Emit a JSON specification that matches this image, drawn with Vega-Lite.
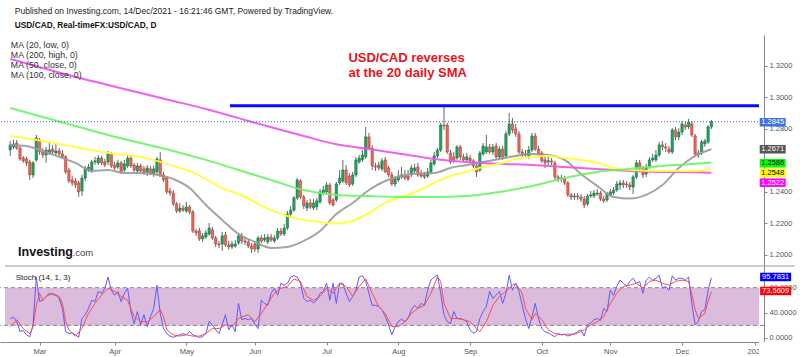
{
"$schema":"https://vega.github.io/schema/vega-lite/v6.json",
"width":764,"height":307,
"autosize":{"type":"none"},
"padding":{"left":0,"top":35,"right":36,"bottom":15},
"background":"white",
"config":{"view":{"stroke":null},"font":"Liberation Sans",
 "axis":{"grid":false,"title":null,"labelColor":"#555","tickColor":"#888","domainColor":"#888","tickSize":3,"labelPadding":2},
 "legend":{"symbolSize":0,"symbolStrokeWidth":0,"labelFontSize":8.8,"labelColor":"#333","rowPadding":0,"labelOffset":0,"padding":0}},
"datasets":{
"candles":[
{"i":0,"o":1.2666,"h":1.2723,"l":1.2628,"c":1.2698},{"i":1,"o":1.2685,"h":1.2729,"l":1.2672,"c":1.2704},{"i":2,"o":1.2710,"h":1.2729,"l":1.2666,"c":1.2678},{"i":3,"o":1.2678,"h":1.2691,"l":1.2597,"c":1.2609},{"i":4,"o":1.2615,"h":1.2628,"l":1.2584,"c":1.2597},{"i":5,"o":1.2609,"h":1.2622,"l":1.2565,"c":1.2584},{"i":6,"o":1.2590,"h":1.2603,"l":1.2476,"c":1.2508},{"i":7,"o":1.2508,"h":1.2597,"l":1.2488,"c":1.2584},{"i":8,"o":1.2603,"h":1.2761,"l":1.2590,"c":1.2742},{"i":9,"o":1.2729,"h":1.2742,"l":1.2634,"c":1.2653},
{"i":10,"o":1.2653,"h":1.2678,"l":1.2615,"c":1.2634},{"i":11,"o":1.2634,"h":1.2685,"l":1.2584,"c":1.2666},{"i":12,"o":1.2647,"h":1.2717,"l":1.2634,"c":1.2666},{"i":13,"o":1.2672,"h":1.2698,"l":1.2641,"c":1.2653},{"i":14,"o":1.2647,"h":1.2710,"l":1.2634,"c":1.2660},{"i":15,"o":1.2660,"h":1.2678,"l":1.2628,"c":1.2641},{"i":16,"o":1.2641,"h":1.2666,"l":1.2609,"c":1.2622},{"i":17,"o":1.2622,"h":1.2634,"l":1.2514,"c":1.2527},{"i":18,"o":1.2539,"h":1.2552,"l":1.2457,"c":1.2469},{"i":19,"o":1.2476,"h":1.2501,"l":1.2438,"c":1.2457},
{"i":20,"o":1.2469,"h":1.2488,"l":1.2425,"c":1.2444},{"i":21,"o":1.2457,"h":1.2469,"l":1.2368,"c":1.2400},{"i":22,"o":1.2406,"h":1.2508,"l":1.2374,"c":1.2488},{"i":23,"o":1.2488,"h":1.2565,"l":1.2469,"c":1.2546},{"i":24,"o":1.2539,"h":1.2578,"l":1.2527,"c":1.2558},{"i":25,"o":1.2533,"h":1.2603,"l":1.2520,"c":1.2590},{"i":26,"o":1.2590,"h":1.2622,"l":1.2571,"c":1.2597},{"i":27,"o":1.2584,"h":1.2634,"l":1.2571,"c":1.2615},{"i":28,"o":1.2615,"h":1.2628,"l":1.2571,"c":1.2584},{"i":29,"o":1.2590,"h":1.2609,"l":1.2558,"c":1.2571},
{"i":30,"o":1.2590,"h":1.2660,"l":1.2571,"c":1.2647},{"i":31,"o":1.2641,"h":1.2653,"l":1.2552,"c":1.2565},{"i":32,"o":1.2571,"h":1.2590,"l":1.2539,"c":1.2552},{"i":33,"o":1.2558,"h":1.2603,"l":1.2546,"c":1.2584},{"i":34,"o":1.2584,"h":1.2597,"l":1.2514,"c":1.2527},{"i":35,"o":1.2539,"h":1.2603,"l":1.2527,"c":1.2578},{"i":36,"o":1.2565,"h":1.2634,"l":1.2552,"c":1.2615},{"i":37,"o":1.2615,"h":1.2628,"l":1.2552,"c":1.2565},{"i":38,"o":1.2571,"h":1.2584,"l":1.2527,"c":1.2539},{"i":39,"o":1.2533,"h":1.2584,"l":1.2520,"c":1.2565},
{"i":40,"o":1.2565,"h":1.2578,"l":1.2520,"c":1.2533},{"i":41,"o":1.2546,"h":1.2565,"l":1.2508,"c":1.2520},{"i":42,"o":1.2527,"h":1.2571,"l":1.2501,"c":1.2552},{"i":43,"o":1.2546,"h":1.2565,"l":1.2508,"c":1.2520},{"i":44,"o":1.2514,"h":1.2565,"l":1.2495,"c":1.2546},{"i":45,"o":1.2527,"h":1.2622,"l":1.2508,"c":1.2609},{"i":46,"o":1.2603,"h":1.2653,"l":1.2495,"c":1.2501},{"i":47,"o":1.2508,"h":1.2527,"l":1.2463,"c":1.2476},{"i":48,"o":1.2488,"h":1.2501,"l":1.2387,"c":1.2400},{"i":49,"o":1.2406,"h":1.2425,"l":1.2374,"c":1.2393},
{"i":50,"o":1.2393,"h":1.2412,"l":1.2311,"c":1.2324},{"i":51,"o":1.2324,"h":1.2336,"l":1.2266,"c":1.2279},{"i":52,"o":1.2279,"h":1.2330,"l":1.2266,"c":1.2298},{"i":53,"o":1.2298,"h":1.2317,"l":1.2273,"c":1.2285},{"i":54,"o":1.2279,"h":1.2336,"l":1.2266,"c":1.2305},{"i":55,"o":1.2305,"h":1.2317,"l":1.2260,"c":1.2273},{"i":56,"o":1.2273,"h":1.2285,"l":1.2140,"c":1.2152},{"i":57,"o":1.2152,"h":1.2165,"l":1.2121,"c":1.2140},{"i":58,"o":1.2152,"h":1.2171,"l":1.2089,"c":1.2102},{"i":59,"o":1.2102,"h":1.2140,"l":1.2083,"c":1.2121},
{"i":60,"o":1.2114,"h":1.2159,"l":1.2102,"c":1.2140},{"i":61,"o":1.2133,"h":1.2203,"l":1.2121,"c":1.2171},{"i":62,"o":1.2159,"h":1.2178,"l":1.2095,"c":1.2108},{"i":63,"o":1.2108,"h":1.2121,"l":1.2051,"c":1.2070},{"i":64,"o":1.2070,"h":1.2089,"l":1.2045,"c":1.2064},{"i":65,"o":1.2070,"h":1.2146,"l":1.2026,"c":1.2121},{"i":66,"o":1.2127,"h":1.2146,"l":1.2051,"c":1.2064},{"i":67,"o":1.2064,"h":1.2089,"l":1.2032,"c":1.2051},{"i":68,"o":1.2051,"h":1.2089,"l":1.2038,"c":1.2070},{"i":69,"o":1.2057,"h":1.2095,"l":1.2045,"c":1.2070},
{"i":70,"o":1.2076,"h":1.2140,"l":1.2064,"c":1.2121},{"i":71,"o":1.2121,"h":1.2140,"l":1.2070,"c":1.2089},{"i":72,"o":1.2089,"h":1.2114,"l":1.2064,"c":1.2083},{"i":73,"o":1.2083,"h":1.2102,"l":1.2045,"c":1.2057},{"i":74,"o":1.2057,"h":1.2076,"l":1.2013,"c":1.2038},{"i":75,"o":1.2070,"h":1.2089,"l":1.2019,"c":1.2038},{"i":76,"o":1.2038,"h":1.2121,"l":1.2013,"c":1.2108},{"i":77,"o":1.2108,"h":1.2127,"l":1.2076,"c":1.2089},{"i":78,"o":1.2095,"h":1.2133,"l":1.2083,"c":1.2108},{"i":79,"o":1.2083,"h":1.2133,"l":1.2070,"c":1.2114},
{"i":80,"o":1.2114,"h":1.2133,"l":1.2083,"c":1.2095},{"i":81,"o":1.2089,"h":1.2127,"l":1.2076,"c":1.2108},{"i":82,"o":1.2108,"h":1.2171,"l":1.2095,"c":1.2152},{"i":83,"o":1.2152,"h":1.2171,"l":1.2121,"c":1.2133},{"i":84,"o":1.2133,"h":1.2197,"l":1.2121,"c":1.2171},{"i":85,"o":1.2171,"h":1.2279,"l":1.2159,"c":1.2260},{"i":86,"o":1.2260,"h":1.2311,"l":1.2241,"c":1.2285},{"i":87,"o":1.2285,"h":1.2374,"l":1.2273,"c":1.2362},{"i":88,"o":1.2362,"h":1.2488,"l":1.2349,"c":1.2476},{"i":89,"o":1.2469,"h":1.2482,"l":1.2355,"c":1.2368},
{"i":90,"o":1.2368,"h":1.2381,"l":1.2292,"c":1.2311},{"i":91,"o":1.2298,"h":1.2349,"l":1.2279,"c":1.2330},{"i":92,"o":1.2330,"h":1.2355,"l":1.2292,"c":1.2305},{"i":93,"o":1.2298,"h":1.2355,"l":1.2285,"c":1.2330},{"i":94,"o":1.2305,"h":1.2362,"l":1.2285,"c":1.2343},{"i":95,"o":1.2336,"h":1.2419,"l":1.2324,"c":1.2400},{"i":96,"o":1.2393,"h":1.2438,"l":1.2381,"c":1.2412},{"i":97,"o":1.2400,"h":1.2463,"l":1.2387,"c":1.2444},{"i":98,"o":1.2444,"h":1.2457,"l":1.2317,"c":1.2330},{"i":99,"o":1.2349,"h":1.2362,"l":1.2305,"c":1.2317},
{"i":100,"o":1.2349,"h":1.2463,"l":1.2336,"c":1.2450},{"i":101,"o":1.2457,"h":1.2539,"l":1.2444,"c":1.2488},{"i":102,"o":1.2469,"h":1.2603,"l":1.2457,"c":1.2539},{"i":103,"o":1.2539,"h":1.2571,"l":1.2444,"c":1.2457},{"i":104,"o":1.2501,"h":1.2520,"l":1.2431,"c":1.2444},{"i":105,"o":1.2450,"h":1.2527,"l":1.2438,"c":1.2508},{"i":106,"o":1.2508,"h":1.2622,"l":1.2495,"c":1.2603},{"i":107,"o":1.2590,"h":1.2634,"l":1.2578,"c":1.2615},{"i":108,"o":1.2603,"h":1.2666,"l":1.2590,"c":1.2634},{"i":109,"o":1.2622,"h":1.2812,"l":1.2609,"c":1.2749},
{"i":110,"o":1.2749,"h":1.2774,"l":1.2666,"c":1.2678},{"i":111,"o":1.2678,"h":1.2698,"l":1.2539,"c":1.2565},{"i":112,"o":1.2565,"h":1.2584,"l":1.2533,"c":1.2558},{"i":113,"o":1.2571,"h":1.2590,"l":1.2539,"c":1.2552},{"i":114,"o":1.2546,"h":1.2615,"l":1.2533,"c":1.2597},{"i":115,"o":1.2603,"h":1.2622,"l":1.2520,"c":1.2527},{"i":116,"o":1.2552,"h":1.2565,"l":1.2495,"c":1.2508},{"i":117,"o":1.2508,"h":1.2527,"l":1.2438,"c":1.2450},{"i":118,"o":1.2450,"h":1.2501,"l":1.2431,"c":1.2482},{"i":119,"o":1.2476,"h":1.2539,"l":1.2463,"c":1.2501},
{"i":120,"o":1.2495,"h":1.2558,"l":1.2482,"c":1.2508},{"i":121,"o":1.2508,"h":1.2539,"l":1.2476,"c":1.2488},{"i":122,"o":1.2501,"h":1.2539,"l":1.2469,"c":1.2482},{"i":123,"o":1.2508,"h":1.2571,"l":1.2495,"c":1.2552},{"i":124,"o":1.2533,"h":1.2578,"l":1.2520,"c":1.2552},{"i":125,"o":1.2558,"h":1.2584,"l":1.2495,"c":1.2508},{"i":126,"o":1.2514,"h":1.2539,"l":1.2488,"c":1.2501},{"i":127,"o":1.2508,"h":1.2527,"l":1.2482,"c":1.2495},{"i":128,"o":1.2501,"h":1.2552,"l":1.2488,"c":1.2527},{"i":129,"o":1.2527,"h":1.2603,"l":1.2514,"c":1.2584},
{"i":130,"o":1.2578,"h":1.2653,"l":1.2565,"c":1.2628},{"i":131,"o":1.2628,"h":1.2678,"l":1.2615,"c":1.2666},{"i":132,"o":1.2666,"h":1.2837,"l":1.2653,"c":1.2824},{"i":133,"o":1.2824,"h":1.2945,"l":1.2793,"c":1.2818},{"i":134,"o":1.2824,"h":1.2837,"l":1.2641,"c":1.2653},{"i":135,"o":1.2647,"h":1.2666,"l":1.2578,"c":1.2590},{"i":136,"o":1.2622,"h":1.2653,"l":1.2584,"c":1.2603},{"i":137,"o":1.2615,"h":1.2698,"l":1.2603,"c":1.2685},{"i":138,"o":1.2685,"h":1.2698,"l":1.2603,"c":1.2622},{"i":139,"o":1.2622,"h":1.2641,"l":1.2590,"c":1.2603},
{"i":140,"o":1.2603,"h":1.2647,"l":1.2590,"c":1.2622},{"i":141,"o":1.2615,"h":1.2634,"l":1.2584,"c":1.2597},{"i":142,"o":1.2597,"h":1.2609,"l":1.2552,"c":1.2565},{"i":143,"o":1.2565,"h":1.2578,"l":1.2495,"c":1.2527},{"i":144,"o":1.2539,"h":1.2660,"l":1.2527,"c":1.2647},{"i":145,"o":1.2641,"h":1.2710,"l":1.2628,"c":1.2691},{"i":146,"o":1.2653,"h":1.2761,"l":1.2641,"c":1.2685},{"i":147,"o":1.2685,"h":1.2704,"l":1.2641,"c":1.2653},{"i":148,"o":1.2653,"h":1.2704,"l":1.2634,"c":1.2685},{"i":149,"o":1.2691,"h":1.2710,"l":1.2603,"c":1.2622},
{"i":150,"o":1.2622,"h":1.2691,"l":1.2603,"c":1.2672},{"i":151,"o":1.2672,"h":1.2691,"l":1.2603,"c":1.2615},{"i":152,"o":1.2628,"h":1.2787,"l":1.2615,"c":1.2768},{"i":153,"o":1.2768,"h":1.2901,"l":1.2755,"c":1.2831},{"i":154,"o":1.2831,"h":1.2869,"l":1.2774,"c":1.2793},{"i":155,"o":1.2799,"h":1.2831,"l":1.2749,"c":1.2768},{"i":156,"o":1.2768,"h":1.2787,"l":1.2641,"c":1.2653},{"i":157,"o":1.2653,"h":1.2672,"l":1.2622,"c":1.2634},{"i":158,"o":1.2634,"h":1.2666,"l":1.2615,"c":1.2641},{"i":159,"o":1.2628,"h":1.2691,"l":1.2609,"c":1.2666},
{"i":160,"o":1.2666,"h":1.2774,"l":1.2653,"c":1.2755},{"i":161,"o":1.2755,"h":1.2774,"l":1.2660,"c":1.2672},{"i":162,"o":1.2672,"h":1.2691,"l":1.2628,"c":1.2641},{"i":163,"o":1.2647,"h":1.2660,"l":1.2584,"c":1.2597},{"i":164,"o":1.2603,"h":1.2622,"l":1.2552,"c":1.2584},{"i":165,"o":1.2590,"h":1.2622,"l":1.2571,"c":1.2597},{"i":166,"o":1.2597,"h":1.2615,"l":1.2571,"c":1.2590},{"i":167,"o":1.2584,"h":1.2597,"l":1.2476,"c":1.2495},{"i":168,"o":1.2495,"h":1.2508,"l":1.2463,"c":1.2482},{"i":169,"o":1.2482,"h":1.2508,"l":1.2463,"c":1.2488},
{"i":170,"o":1.2482,"h":1.2501,"l":1.2444,"c":1.2457},{"i":171,"o":1.2457,"h":1.2469,"l":1.2368,"c":1.2381},{"i":172,"o":1.2381,"h":1.2393,"l":1.2349,"c":1.2368},{"i":173,"o":1.2368,"h":1.2393,"l":1.2349,"c":1.2374},{"i":174,"o":1.2374,"h":1.2393,"l":1.2349,"c":1.2368},{"i":175,"o":1.2368,"h":1.2387,"l":1.2336,"c":1.2355},{"i":176,"o":1.2355,"h":1.2374,"l":1.2298,"c":1.2317},{"i":177,"o":1.2324,"h":1.2387,"l":1.2311,"c":1.2374},{"i":178,"o":1.2374,"h":1.2406,"l":1.2362,"c":1.2381},{"i":179,"o":1.2374,"h":1.2412,"l":1.2362,"c":1.2393},
{"i":180,"o":1.2387,"h":1.2419,"l":1.2374,"c":1.2393},{"i":181,"o":1.2393,"h":1.2406,"l":1.2343,"c":1.2355},{"i":182,"o":1.2355,"h":1.2374,"l":1.2330,"c":1.2343},{"i":183,"o":1.2349,"h":1.2400,"l":1.2336,"c":1.2387},{"i":184,"o":1.2381,"h":1.2419,"l":1.2368,"c":1.2400},{"i":185,"o":1.2393,"h":1.2431,"l":1.2381,"c":1.2412},{"i":186,"o":1.2412,"h":1.2469,"l":1.2400,"c":1.2450},{"i":187,"o":1.2444,"h":1.2476,"l":1.2412,"c":1.2457},{"i":188,"o":1.2457,"h":1.2476,"l":1.2425,"c":1.2444},{"i":189,"o":1.2450,"h":1.2469,"l":1.2425,"c":1.2444},
{"i":190,"o":1.2444,"h":1.2463,"l":1.2412,"c":1.2431},{"i":191,"o":1.2431,"h":1.2508,"l":1.2387,"c":1.2495},{"i":192,"o":1.2495,"h":1.2603,"l":1.2482,"c":1.2584},{"i":193,"o":1.2584,"h":1.2603,"l":1.2527,"c":1.2546},{"i":194,"o":1.2546,"h":1.2565,"l":1.2488,"c":1.2508},{"i":195,"o":1.2514,"h":1.2578,"l":1.2495,"c":1.2558},{"i":196,"o":1.2558,"h":1.2622,"l":1.2546,"c":1.2603},{"i":197,"o":1.2603,"h":1.2641,"l":1.2590,"c":1.2615},{"i":198,"o":1.2603,"h":1.2666,"l":1.2590,"c":1.2634},{"i":199,"o":1.2634,"h":1.2717,"l":1.2622,"c":1.2698},
{"i":200,"o":1.2698,"h":1.2723,"l":1.2666,"c":1.2685},{"i":201,"o":1.2685,"h":1.2710,"l":1.2653,"c":1.2678},{"i":202,"o":1.2672,"h":1.2691,"l":1.2641,"c":1.2653},{"i":203,"o":1.2653,"h":1.2805,"l":1.2641,"c":1.2793},{"i":204,"o":1.2793,"h":1.2812,"l":1.2729,"c":1.2749},{"i":205,"o":1.2749,"h":1.2805,"l":1.2729,"c":1.2780},{"i":206,"o":1.2780,"h":1.2850,"l":1.2761,"c":1.2831},{"i":207,"o":1.2824,"h":1.2843,"l":1.2793,"c":1.2812},{"i":208,"o":1.2812,"h":1.2863,"l":1.2799,"c":1.2843},{"i":209,"o":1.2831,"h":1.2850,"l":1.2749,"c":1.2761},
{"i":210,"o":1.2755,"h":1.2768,"l":1.2628,"c":1.2641},{"i":211,"o":1.2647,"h":1.2666,"l":1.2615,"c":1.2634},{"i":212,"o":1.2653,"h":1.2729,"l":1.2634,"c":1.2717},{"i":213,"o":1.2704,"h":1.2736,"l":1.2685,"c":1.2723},{"i":214,"o":1.2717,"h":1.2824,"l":1.2704,"c":1.2812},{"i":215,"o":1.2812,"h":1.2856,"l":1.2799,"c":1.2845}
],
"ma":[
{"ma":"MA (20, low, 0)","i":0,"v":1.2698},{"ma":"MA (20, low, 0)","i":5,"v":1.2691},{"ma":"MA (20, low, 0)","i":10,"v":1.2660},{"ma":"MA (20, low, 0)","i":15,"v":1.2622},{"ma":"MA (20, low, 0)","i":20,"v":1.2584},{"ma":"MA (20, low, 0)","i":25,"v":1.2533},{"ma":"MA (20, low, 0)","i":30,"v":1.2539},{"ma":"MA (20, low, 0)","i":35,"v":1.2520},{"ma":"MA (20, low, 0)","i":40,"v":1.2520},{"ma":"MA (20, low, 0)","i":45,"v":1.2508},{"ma":"MA (20, low, 0)","i":50,"v":1.2482},{"ma":"MA (20, low, 0)","i":55,"v":1.2425},{"ma":"MA (20, low, 0)","i":60,"v":1.2317},{"ma":"MA (20, low, 0)","i":65,"v":1.2222},{"ma":"MA (20, low, 0)","i":70,"v":1.2133},{"ma":"MA (20, low, 0)","i":75,"v":1.2083},{"ma":"MA (20, low, 0)","i":80,"v":1.2045},{"ma":"MA (20, low, 0)","i":85,"v":1.2051},{"ma":"MA (20, low, 0)","i":90,"v":1.2089},{"ma":"MA (20, low, 0)","i":95,"v":1.2152},{"ma":"MA (20, low, 0)","i":100,"v":1.2260},{"ma":"MA (20, low, 0)","i":105,"v":1.2330},{"ma":"MA (20, low, 0)","i":110,"v":1.2412},{"ma":"MA (20, low, 0)","i":115,"v":1.2469},{"ma":"MA (20, low, 0)","i":120,"v":1.2501},{"ma":"MA (20, low, 0)","i":125,"v":1.2517},{"ma":"MA (20, low, 0)","i":130,"v":1.2520},{"ma":"MA (20, low, 0)","i":135,"v":1.2552},{"ma":"MA (20, low, 0)","i":140,"v":1.2571},{"ma":"MA (20, low, 0)","i":145,"v":1.2590},{"ma":"MA (20, low, 0)","i":150,"v":1.2609},{"ma":"MA (20, low, 0)","i":155,"v":1.2628},{"ma":"MA (20, low, 0)","i":160,"v":1.2641},{"ma":"MA (20, low, 0)","i":165,"v":1.2634},{"ma":"MA (20, low, 0)","i":170,"v":1.2603},{"ma":"MA (20, low, 0)","i":175,"v":1.2514},{"ma":"MA (20, low, 0)","i":180,"v":1.2438},{"ma":"MA (20, low, 0)","i":185,"v":1.2368},{"ma":"MA (20, low, 0)","i":190,"v":1.2358},{"ma":"MA (20, low, 0)","i":195,"v":1.2381},{"ma":"MA (20, low, 0)","i":200,"v":1.2444},{"ma":"MA (20, low, 0)","i":205,"v":1.2552},{"ma":"MA (20, low, 0)","i":210,"v":1.2628},{"ma":"MA (20, low, 0)","i":215,"v":1.2671},
{"ma":"MA (200, high, 0)","i":0,"v":1.3243},{"ma":"MA (200, high, 0)","i":10,"v":1.3186},{"ma":"MA (200, high, 0)","i":20,"v":1.3129},{"ma":"MA (200, high, 0)","i":30,"v":1.3078},{"ma":"MA (200, high, 0)","i":40,"v":1.3027},{"ma":"MA (200, high, 0)","i":50,"v":1.2977},{"ma":"MA (200, high, 0)","i":60,"v":1.2926},{"ma":"MA (200, high, 0)","i":70,"v":1.2868},{"ma":"MA (200, high, 0)","i":80,"v":1.2810},{"ma":"MA (200, high, 0)","i":90,"v":1.2755},{"ma":"MA (200, high, 0)","i":100,"v":1.2702},{"ma":"MA (200, high, 0)","i":110,"v":1.2672},{"ma":"MA (200, high, 0)","i":120,"v":1.2641},{"ma":"MA (200, high, 0)","i":130,"v":1.2609},{"ma":"MA (200, high, 0)","i":140,"v":1.2590},{"ma":"MA (200, high, 0)","i":150,"v":1.2578},{"ma":"MA (200, high, 0)","i":160,"v":1.2571},{"ma":"MA (200, high, 0)","i":170,"v":1.2558},{"ma":"MA (200, high, 0)","i":180,"v":1.2546},{"ma":"MA (200, high, 0)","i":190,"v":1.2533},{"ma":"MA (200, high, 0)","i":200,"v":1.2527},{"ma":"MA (200, high, 0)","i":210,"v":1.2525},{"ma":"MA (200, high, 0)","i":215,"v":1.2522},
{"ma":"MA (50, close, 0)","i":0,"v":1.2755},{"ma":"MA (50, close, 0)","i":10,"v":1.2723},{"ma":"MA (50, close, 0)","i":20,"v":1.2685},{"ma":"MA (50, close, 0)","i":30,"v":1.2647},{"ma":"MA (50, close, 0)","i":40,"v":1.2622},{"ma":"MA (50, close, 0)","i":45,"v":1.2597},{"ma":"MA (50, close, 0)","i":50,"v":1.2565},{"ma":"MA (50, close, 0)","i":55,"v":1.2533},{"ma":"MA (50, close, 0)","i":60,"v":1.2482},{"ma":"MA (50, close, 0)","i":65,"v":1.2425},{"ma":"MA (50, close, 0)","i":70,"v":1.2387},{"ma":"MA (50, close, 0)","i":75,"v":1.2336},{"ma":"MA (50, close, 0)","i":80,"v":1.2285},{"ma":"MA (50, close, 0)","i":85,"v":1.2247},{"ma":"MA (50, close, 0)","i":90,"v":1.2222},{"ma":"MA (50, close, 0)","i":95,"v":1.2209},{"ma":"MA (50, close, 0)","i":100,"v":1.2200},{"ma":"MA (50, close, 0)","i":105,"v":1.2216},{"ma":"MA (50, close, 0)","i":110,"v":1.2266},{"ma":"MA (50, close, 0)","i":115,"v":1.2330},{"ma":"MA (50, close, 0)","i":120,"v":1.2368},{"ma":"MA (50, close, 0)","i":125,"v":1.2406},{"ma":"MA (50, close, 0)","i":130,"v":1.2457},{"ma":"MA (50, close, 0)","i":135,"v":1.2501},{"ma":"MA (50, close, 0)","i":140,"v":1.2527},{"ma":"MA (50, close, 0)","i":145,"v":1.2558},{"ma":"MA (50, close, 0)","i":150,"v":1.2578},{"ma":"MA (50, close, 0)","i":155,"v":1.2609},{"ma":"MA (50, close, 0)","i":160,"v":1.2622},{"ma":"MA (50, close, 0)","i":165,"v":1.2628},{"ma":"MA (50, close, 0)","i":170,"v":1.2615},{"ma":"MA (50, close, 0)","i":175,"v":1.2603},{"ma":"MA (50, close, 0)","i":180,"v":1.2584},{"ma":"MA (50, close, 0)","i":185,"v":1.2552},{"ma":"MA (50, close, 0)","i":190,"v":1.2539},{"ma":"MA (50, close, 0)","i":200,"v":1.2533},{"ma":"MA (50, close, 0)","i":210,"v":1.2533},{"ma":"MA (50, close, 0)","i":215,"v":1.2548},
{"ma":"MA (100, close, 0)","i":0,"v":1.2932},{"ma":"MA (100, close, 0)","i":10,"v":1.2875},{"ma":"MA (100, close, 0)","i":20,"v":1.2818},{"ma":"MA (100, close, 0)","i":30,"v":1.2761},{"ma":"MA (100, close, 0)","i":40,"v":1.2710},{"ma":"MA (100, close, 0)","i":50,"v":1.2660},{"ma":"MA (100, close, 0)","i":60,"v":1.2603},{"ma":"MA (100, close, 0)","i":70,"v":1.2539},{"ma":"MA (100, close, 0)","i":80,"v":1.2476},{"ma":"MA (100, close, 0)","i":90,"v":1.2412},{"ma":"MA (100, close, 0)","i":100,"v":1.2381},{"ma":"MA (100, close, 0)","i":110,"v":1.2374},{"ma":"MA (100, close, 0)","i":120,"v":1.2368},{"ma":"MA (100, close, 0)","i":130,"v":1.2368},{"ma":"MA (100, close, 0)","i":140,"v":1.2374},{"ma":"MA (100, close, 0)","i":150,"v":1.2400},{"ma":"MA (100, close, 0)","i":160,"v":1.2438},{"ma":"MA (100, close, 0)","i":170,"v":1.2488},{"ma":"MA (100, close, 0)","i":180,"v":1.2527},{"ma":"MA (100, close, 0)","i":190,"v":1.2546},{"ma":"MA (100, close, 0)","i":200,"v":1.2565},{"ma":"MA (100, close, 0)","i":210,"v":1.2578},{"ma":"MA (100, close, 0)","i":215,"v":1.2586}
],
"stochK":[
{"i":0,"k":31},{"i":1,"k":33},{"i":2,"k":26},{"i":3,"k":10},{"i":4,"k":12},{"i":5,"k":5},{"i":6,"k":2},{"i":7,"k":21},{"i":8,"k":97},{"i":9,"k":58},{"i":10,"k":60},{"i":11,"k":66},{"i":12,"k":71},{"i":13,"k":69},{"i":14,"k":68},{"i":15,"k":63},{"i":16,"k":47},{"i":17,"k":10},{"i":18,"k":7},{"i":19,"k":8},{"i":20,"k":5},{"i":21,"k":1},{"i":22,"k":31},{"i":23,"k":37},{"i":24,"k":47},{"i":25,"k":60},{"i":26,"k":58},{"i":27,"k":74},{"i":28,"k":71},{"i":29,"k":79},{"i":30,"k":97},{"i":31,"k":76},{"i":32,"k":68},{"i":33,"k":74},{"i":34,"k":58},{"i":35,"k":71},{"i":36,"k":79},{"i":37,"k":42},{"i":38,"k":23},{"i":39,"k":42},{"i":40,"k":21},{"i":41,"k":37},{"i":42,"k":18},{"i":43,"k":34},{"i":44,"k":47},{"i":45,"k":84},{"i":46,"k":39},{"i":47,"k":15},{"i":48,"k":7},{"i":49,"k":3},{"i":50,"k":1},{"i":51,"k":3},{"i":52,"k":5},{"i":53,"k":7},{"i":54,"k":5},{"i":55,"k":10},{"i":56,"k":5},{"i":57,"k":3},{"i":58,"k":1},{"i":59,"k":2},{"i":60,"k":7},{"i":61,"k":26},{"i":62,"k":21},{"i":63,"k":13},{"i":64,"k":7},{"i":65,"k":21},{"i":66,"k":37},{"i":67,"k":13},{"i":68,"k":21},{"i":69,"k":10},{"i":70,"k":55},{"i":71,"k":29},{"i":72,"k":31},{"i":73,"k":29},{"i":74,"k":31},{"i":75,"k":22},{"i":76,"k":15},{"i":77,"k":60},{"i":78,"k":55},{"i":79,"k":52},{"i":80,"k":71},{"i":81,"k":79},{"i":82,"k":68},{"i":83,"k":87},{"i":84,"k":84},{"i":85,"k":87},{"i":86,"k":97},{"i":87,"k":99},{"i":88,"k":97},{"i":89,"k":87},{"i":90,"k":63},{"i":91,"k":58},{"i":92,"k":60},{"i":93,"k":56},{"i":94,"k":60},{"i":95,"k":71},{"i":96,"k":74},{"i":97,"k":87},{"i":98,"k":60},{"i":99,"k":87},{"i":100,"k":55},{"i":101,"k":87},{"i":102,"k":87},{"i":103,"k":71},{"i":104,"k":58},{"i":105,"k":66},{"i":106,"k":76},{"i":107,"k":97},{"i":108,"k":99},{"i":109,"k":90},{"i":110,"k":71},{"i":111,"k":52},{"i":112,"k":52},{"i":113,"k":50},{"i":114,"k":45},{"i":115,"k":34},{"i":116,"k":21},{"i":117,"k":5},{"i":118,"k":18},{"i":119,"k":26},{"i":120,"k":30},{"i":121,"k":26},{"i":122,"k":31},{"i":123,"k":45},{"i":124,"k":52},{"i":125,"k":47},{"i":126,"k":55},{"i":127,"k":52},{"i":128,"k":76},{"i":129,"k":92},{"i":130,"k":97},{"i":131,"k":100},{"i":132,"k":71},{"i":133,"k":37},{"i":134,"k":26},{"i":135,"k":23},{"i":136,"k":42},{"i":137,"k":31},{"i":138,"k":31},{"i":139,"k":29},{"i":140,"k":26},{"i":141,"k":13},{"i":142,"k":8},{"i":143,"k":10},{"i":144,"k":31},{"i":145,"k":42},{"i":146,"k":50},{"i":147,"k":74},{"i":148,"k":63},{"i":149,"k":68},{"i":150,"k":74},{"i":151,"k":55},{"i":152,"k":71},{"i":153,"k":100},{"i":154,"k":76},{"i":155,"k":87},{"i":156,"k":74},{"i":157,"k":52},{"i":158,"k":31},{"i":159,"k":15},{"i":160,"k":34},{"i":161,"k":55},{"i":162,"k":31},{"i":163,"k":15},{"i":164,"k":10},{"i":165,"k":8},{"i":166,"k":5},{"i":167,"k":2},{"i":168,"k":7},{"i":169,"k":5},{"i":170,"k":6},{"i":171,"k":3},{"i":172,"k":5},{"i":173,"k":7},{"i":174,"k":10},{"i":175,"k":13},{"i":176,"k":3},{"i":177,"k":21},{"i":178,"k":24},{"i":179,"k":29},{"i":180,"k":31},{"i":181,"k":28},{"i":182,"k":47},{"i":183,"k":42},{"i":184,"k":76},{"i":185,"k":68},{"i":186,"k":82},{"i":187,"k":92},{"i":188,"k":87},{"i":189,"k":82},{"i":190,"k":90},{"i":191,"k":95},{"i":192,"k":87},{"i":193,"k":90},{"i":194,"k":71},{"i":195,"k":92},{"i":196,"k":97},{"i":197,"k":92},{"i":198,"k":95},{"i":199,"k":100},{"i":200,"k":79},{"i":201,"k":82},{"i":202,"k":76},{"i":203,"k":99},{"i":204,"k":92},{"i":205,"k":95},{"i":206,"k":95},{"i":207,"k":92},{"i":208,"k":97},{"i":209,"k":55},{"i":210,"k":21},{"i":211,"k":26},{"i":212,"k":42},{"i":213,"k":45},{"i":214,"k":76},{"i":215,"k":95.7831}
],
"stochD":[
{"i":0,"d":18},{"i":2,"d":29},{"i":4,"d":15},{"i":6,"d":7},{"i":7,"d":18},{"i":8,"d":52},{"i":9,"d":71},{"i":10,"d":60},{"i":11,"d":66},{"i":13,"d":71},{"i":15,"d":66},{"i":16,"d":55},{"i":17,"d":26},{"i":18,"d":13},{"i":20,"d":3},{"i":22,"d":15},{"i":24,"d":39},{"i":26,"d":55},{"i":28,"d":68},{"i":30,"d":79},{"i":32,"d":74},{"i":34,"d":66},{"i":36,"d":60},{"i":38,"d":34},{"i":40,"d":26},{"i":42,"d":26},{"i":44,"d":34},{"i":46,"d":45},{"i":47,"d":34},{"i":48,"d":13},{"i":50,"d":5},{"i":52,"d":3},{"i":54,"d":5},{"i":56,"d":3},{"i":58,"d":3},{"i":60,"d":7},{"i":62,"d":15},{"i":64,"d":15},{"i":66,"d":21},{"i":68,"d":18},{"i":70,"d":31},{"i":73,"d":37},{"i":75,"d":26},{"i":77,"d":39},{"i":79,"d":55},{"i":81,"d":71},{"i":83,"d":79},{"i":85,"d":82},{"i":87,"d":94},{"i":89,"d":90},{"i":91,"d":66},{"i":93,"d":60},{"i":95,"d":66},{"i":97,"d":79},{"i":99,"d":71},{"i":101,"d":87},{"i":103,"d":82},{"i":105,"d":66},{"i":107,"d":82},{"i":109,"d":94},{"i":111,"d":71},{"i":113,"d":50},{"i":115,"d":39},{"i":117,"d":18},{"i":119,"d":18},{"i":121,"d":26},{"i":123,"d":39},{"i":125,"d":47},{"i":127,"d":52},{"i":129,"d":71},{"i":131,"d":97},{"i":132,"d":90},{"i":133,"d":55},{"i":135,"d":31},{"i":137,"d":31},{"i":139,"d":29},{"i":141,"d":26},{"i":143,"d":15},{"i":144,"d":10},{"i":146,"d":26},{"i":148,"d":52},{"i":150,"d":66},{"i":152,"d":74},{"i":154,"d":84},{"i":155,"d":87},{"i":157,"d":71},{"i":158,"d":47},{"i":160,"d":29},{"i":161,"d":39},{"i":163,"d":29},{"i":165,"d":13},{"i":167,"d":7},{"i":169,"d":5},{"i":171,"d":6},{"i":173,"d":6},{"i":175,"d":10},{"i":176,"d":13},{"i":178,"d":21},{"i":180,"d":26},{"i":182,"d":34},{"i":184,"d":55},{"i":186,"d":71},{"i":188,"d":82},{"i":190,"d":84},{"i":192,"d":87},{"i":194,"d":79},{"i":196,"d":90},{"i":198,"d":92},{"i":200,"d":87},{"i":202,"d":84},{"i":204,"d":90},{"i":206,"d":92},{"i":208,"d":90},{"i":209,"d":70},{"i":210,"d":45},{"i":211,"d":31},{"i":213,"d":39},{"i":214,"d":58},{"i":215,"d":73.5609}
]
},
"layer":[
{"layer":[
 {"data":{"name":"candles"},"mark":{"type":"rule","color":"#666","strokeWidth":1},
  "encoding":{
   "x":{"field":"i","type":"quantitative","title":null,"scale":{"domain":[-1.6,229.6],"nice":false,"zero":false}},
   "y":{"field":"l","type":"quantitative","title":null,"scale":{"domain":[1.14483,1.3395],"nice":false,"zero":false},
        "axis":{"orient":"right","values":[1.2,1.22,1.24,1.28,1.3,1.32],"format":".4f","labelFontSize":7.5}},
   "y2":{"field":"h"}}},
 {"data":{"name":"candles"},"mark":{"type":"bar","width":2.4,"strokeWidth":0.5},
  "encoding":{
   "x":{"field":"i","type":"quantitative","title":null},
   "y":{"field":"o","type":"quantitative","title":null},
   "y2":{"field":"c"},
   "fill":{"condition":{"test":"datum.c >= datum.o","value":"#22a35c"},"value":"#ef6459"},
   "stroke":{"condition":{"test":"datum.c >= datum.o","value":"#11683a"},"value":"#a53a31"}}},
 {"data":{"name":"ma"},"mark":{"type":"line","interpolate":"monotone","opacity":0.9},
  "encoding":{
   "x":{"field":"i","type":"quantitative","title":null},
   "y":{"field":"v","type":"quantitative","title":null},
   "color":{"field":"ma","type":"nominal","scale":{"domain":["MA (20, low, 0)","MA (200, high, 0)","MA (50, close, 0)","MA (100, close, 0)"],"range":["#9a9a9a","#f050f0","#ffff33","#66f566"]},
     "legend":{"orient":"none","legendX":2,"legendY":6,"title":null}},
   "strokeWidth":{"field":"ma","type":"ordinal","scale":{"domain":["MA (20, low, 0)","MA (200, high, 0)","MA (50, close, 0)","MA (100, close, 0)"],"range":[2,2,3,2]},"legend":null}}},
 {"data":{"values":[{"lvl":1.2845}]},"mark":{"type":"rule","color":"#2f5fd8","strokeWidth":1,"strokeDash":[1,2]},
  "encoding":{"y":{"field":"lvl","type":"quantitative","title":null}}},
 {"data":{"values":[{"from":67.4,"to":229.6,"lvl":1.2946}]},"mark":{"type":"rule","color":"#0a0aff","strokeWidth":3},
  "encoding":{"x":{"field":"from","type":"quantitative","title":null},"x2":{"field":"to"},"y":{"field":"lvl","type":"quantitative","title":null}}},
 {"data":{"values":[{"tag":"close","val":1.2845,"at":1.28416},{"tag":"ma20","val":1.2671,"at":1.26704},{"tag":"ma100","val":1.2586,"at":1.25817},{"tag":"ma50","val":1.2548,"at":1.25202},{"tag":"ma200","val":1.2522,"at":1.24587}]},
  "layer":[
   {"mark":{"type":"rect","width":26,"height":8.5,"clip":false},
    "encoding":{"x":{"datum":233.8,"type":"quantitative","title":null},"y":{"field":"at","type":"quantitative","title":null},
     "fill":{"condition":[{"test":"datum.tag=='close'","value":"#3d73df"},{"test":"datum.tag=='ma20'","value":"#555555"},{"test":"datum.tag=='ma100'","value":"#00ff00"},{"test":"datum.tag=='ma50'","value":"#ffff00"}],"value":"#ff00ff"}}},
   {"mark":{"type":"text","fontSize":7.5,"align":"center","baseline":"middle"},
    "encoding":{"x":{"datum":233.8,"type":"quantitative","title":null},"y":{"field":"at","type":"quantitative","title":null},
     "text":{"field":"val","type":"quantitative","format":".4f"},
     "color":{"condition":{"test":"datum.tag=='ma100' || datum.tag=='ma50'","value":"#000"},"value":"#fff"}}}
  ]},
 {"data":{"values":[{"t":"Published on Investing.com, 14/Dec/2021 - 16:21:46 GMT, Powered by TradingView.","i":1.42,"p":1.35282}]},
  "mark":{"type":"text","fontSize":8.5,"align":"left","baseline":"alphabetic","color":"#222"},
  "encoding":{"x":{"field":"i","type":"quantitative","title":null},"y":{"field":"p","type":"quantitative","title":null},"text":{"field":"t"}}},
 {"data":{"values":[{"t":"USD/CAD, Real-timeFX:USD/CAD, D","i":1.42,"p":1.34394}]},
  "mark":{"type":"text","fontSize":8.3,"fontWeight":"bold","align":"left","baseline":"alphabetic","color":"#111"},
  "encoding":{"x":{"field":"i","type":"quantitative","title":null},"y":{"field":"p","type":"quantitative","title":null},"text":{"field":"t"}}},
 {"data":{"values":[{"t":"USD/CAD reverses","i":103.7,"p":1.32238},{"t":"at the 20 daily SMA","i":103.7,"p":1.31287}]},
  "mark":{"type":"text","fontSize":13,"fontWeight":"bold","align":"left","baseline":"alphabetic","color":"#e8141c"},
  "encoding":{"x":{"field":"i","type":"quantitative","title":null},"y":{"field":"p","type":"quantitative","title":null},"text":{"field":"t"}}},
 {"data":{"values":[{"t":"Investing","i":2.42,"p":1.19937}]},
  "mark":{"type":"text","fontSize":12.5,"fontWeight":"bold","align":"left","baseline":"alphabetic","color":"#111"},
  "encoding":{"x":{"field":"i","type":"quantitative","title":null},"y":{"field":"p","type":"quantitative","title":null},"text":{"field":"t"}}},
 {"data":{"values":[{"t":".com","i":19.1,"p":1.19937}]},
  "mark":{"type":"text","fontSize":9.5,"align":"left","baseline":"alphabetic","color":"#444"},
  "encoding":{"x":{"field":"i","type":"quantitative","title":null},"y":{"field":"p","type":"quantitative","title":null},"text":{"field":"t"}}}
]},
{"layer":[
 {"data":{"values":[{"lo":20,"hi":80}]},"mark":{"type":"rect","color":"#dcbcdc"},
  "encoding":{
   "x":{"datum":-1.6,"type":"quantitative","title":null},"x2":{"datum":229.6},
   "y":{"field":"lo","type":"quantitative","title":null,"scale":{"domain":[-6.4,481.9],"nice":false,"zero":false},
        "axis":{"orient":"right","values":[0,40,80],"format":".4f","domain":false,"labelFontSize":7.5}},
   "y2":{"field":"hi"}}},
 {"data":{"values":[{"v":20},{"v":80}]},"mark":{"type":"rule","color":"#888","strokeDash":[4,3],"strokeWidth":1},
  "encoding":{"y":{"field":"v","type":"quantitative","title":null}}},
 {"data":{"values":[{"v":114.5,"from":-1.6,"to":240.5}]},"mark":{"type":"rule","color":"#999","strokeWidth":1,"clip":false},
  "encoding":{"x":{"field":"from","type":"quantitative","title":null},"x2":{"field":"to"},"y":{"field":"v","type":"quantitative","title":null}}},
 {"data":{"name":"stochK"},"mark":{"type":"line","color":"#5a5aff","strokeWidth":1},
  "encoding":{
   "x":{"field":"i","type":"quantitative","title":null,
        "axis":{"orient":"bottom","values":[9,32,54,75,97,119,141,163,184,206,228.5],
                "labelExpr":"['Mar','Apr','May','Jun','Jul','Aug','Sep','Oct','Nov','Dec','2022'][indexof([9,32,54,75,97,119,141,163,184,206,228.5], datum.value)]",
                "labelFontSize":7.5,"labelOverlap":false,"labelFlush":false,"labelBound":false}},
   "y":{"field":"k","type":"quantitative","title":null}}},
 {"data":{"name":"stochD"},"mark":{"type":"line","color":"#ff4a4a","strokeWidth":1},
  "encoding":{"x":{"field":"i","type":"quantitative","title":null},"y":{"field":"d","type":"quantitative","title":null}}},
 {"data":{"values":[{"tag":"k","val":95.7831,"at":97},{"tag":"d","val":73.5609,"at":74.8}]},
  "layer":[
   {"mark":{"type":"rect","width":31,"height":8.5,"clip":false},
    "encoding":{"x":{"datum":234.7,"type":"quantitative","title":null},"y":{"field":"at","type":"quantitative","title":null},
     "fill":{"condition":{"test":"datum.tag=='k'","value":"#0000ff"},"value":"#ff0000"}}},
   {"mark":{"type":"text","fontSize":7.5,"align":"center","baseline":"middle","color":"#fff"},
    "encoding":{"x":{"datum":234.7,"type":"quantitative","title":null},"y":{"field":"at","type":"quantitative","title":null},
     "text":{"field":"val","type":"quantitative","format":".4f"}}}
  ]},
 {"data":{"values":[{"from":229.6,"to":241,"lo":-6.4,"hi":-40}]},"mark":{"type":"rect","color":"white","clip":false},
  "encoding":{"x":{"field":"from","type":"quantitative","title":null},"x2":{"field":"to"},"y":{"field":"lo","type":"quantitative","title":null},"y2":{"field":"hi"}}},
 {"data":{"values":[{"t":"Stoch (14, 1, 3)","i":1.7,"v":92.2}]},
  "mark":{"type":"text","fontSize":8,"align":"left","baseline":"alphabetic","color":"#222"},
  "encoding":{"x":{"field":"i","type":"quantitative","title":null},"y":{"field":"v","type":"quantitative","title":null},"text":{"field":"t"}}}
]}
],
"resolve":{"scale":{"y":"independent"}}
}
